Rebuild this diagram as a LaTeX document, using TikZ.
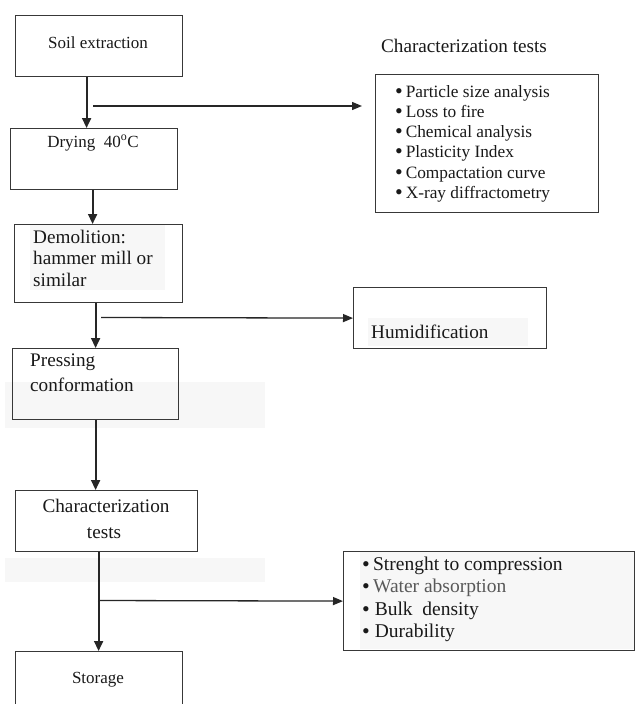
\documentclass[tikz,border=0pt]{standalone}
\usepackage{fontspec}
\setmainfont{Liberation Serif}
\usetikzlibrary{arrows.meta}
\newcommand{\bigbul}{\smash{\raisebox{-1pt}{\fontsize{22}{20}\selectfont\textbullet}}}
\begin{document}
\begin{tikzpicture}[x=1pt,y=-1pt,
  box/.style={draw=black!78, line width=1.2pt, anchor=north west, inner sep=0pt},
  lbl/.style={font=\fontsize{17}{20}\selectfont, text=black!90, inner sep=0pt},
  lmid/.style={font=\fontsize{19.2}{22}\selectfont, text=black!90, inner sep=0pt},
  llist/.style={font=\fontsize{17.3}{20}\selectfont, text=black!90, inner sep=0pt, anchor=base west},
  lbig/.style={font=\fontsize{19.5}{22}\selectfont, text=black!90, inner sep=0pt, anchor=base west},
  arr/.style={line width=1.8pt, draw=black!85, -{Triangle[length=10pt,width=9pt]}},
  brarr/.style={line width=1.3pt, draw=black!85, -{Triangle[length=10pt,width=8pt]}},
  haze/.style={fill=black!3, draw=none}]
\useasboundingbox (0,0) rectangle (635,704);
\fill[white] (0,0) rectangle (635,704);
% faint background patches
\fill[haze] (5,382) rectangle (265,428);
\fill[haze] (5,558) rectangle (265,582);
\fill[haze] (30,225) rectangle (165,290);
\fill[haze] (368,318) rectangle (528,346);
\fill[haze] (360,552) rectangle (634,649);
% boxes
\node[box, minimum width=167pt, minimum height=61pt] (soil) at (15,15) {};
\node[box, minimum width=167pt, minimum height=61pt] (dry) at (10,128) {};
\node[box, minimum width=168pt, minimum height=78pt] (demo) at (14,224) {};
\node[box, minimum width=193pt, minimum height=61pt] (humid) at (353,287) {};
\node[box, minimum width=166pt, minimum height=71pt] (press) at (12,348) {};
\node[box, minimum width=182pt, minimum height=61pt] (char) at (15,490) {};
\node[box, minimum width=167pt, minimum height=60pt] (store) at (15,651) {};
\node[box, minimum width=223pt, minimum height=138pt] (tests) at (375,74) {};
\node[box, minimum width=291pt, minimum height=99pt] (props) at (343,551) {};
% texts
\node[lbl] (tsoil) at (98,43) {Soil extraction};
\node[lbl] (tdry) at (93,143) {Drying\ \ 40\textsuperscript{o}C};
\node[lmid, anchor=west] (td1) at (33,237) {Demolition:};
\node[lmid, anchor=west] (td2) at (33,258) {hammer mill or};
\node[lmid, anchor=west] (td3) at (33,280) {similar};
\node[lmid, anchor=west] (tp1) at (30,362) {Pressing};
\node[lmid, anchor=west] (tp2) at (30,385) {conformation};
\node[lmid, anchor=west] (thum) at (371,332) {Humidification};
\node[lmid] (tc1) at (106,506) {Characterization};
\node[lmid] (tc2) at (104,533) {tests};
\node[lbl] (tst) at (98,680) {Storage};
\node[lmid] (ttitle) at (464,46) {Characterization tests};
\foreach \t [count=\i] in {Particle size analysis,Loss to fire,Chemical analysis,Plasticity Index,Compactation curve,X-ray diffractometry}
  \node[llist] (ct\i) at (395,77+20.2*\i) {\bigbul\,\t};
\node[lbig] (pr1) at (362,570) {\bigbul\,Strenght to compression};
\node[lbig, text=black!65] (pr2) at (362,592) {\textcolor{black!90}{\bigbul}\,Water absorption};
\node[lbig] (pr3) at (362,615) {\bigbul\ Bulk\ \ density};
\node[lbig] (pr4) at (362,637) {\bigbul\ Durability};
% branch points
\coordinate (b1s) at (93,106);
\coordinate (b1e) at (362,106);
\coordinate (b2s) at (101,317.5);
\coordinate (b3s) at (98,600.5);
% connectors
\draw[arr] ([xshift=-12.5pt]soil.south) -- ([xshift=-7.5pt]dry.north);
\draw[arr] ([xshift=-1.5pt]dry.south) -- ([xshift=-6pt]demo.north);
\draw[arr] ([xshift=-3pt]demo.south) -- (press.north);
\draw[arr] (press.south) -- ([xshift=-11pt]char.north);
\draw[arr] ([xshift=-8pt]char.south) -- ([xshift=-0.5pt]store.north);
\draw[brarr] (b1s) -- (b1e);
\draw[brarr] (b2s) -- (humid.west);
\draw[brarr] (b3s) -- (props.west);
\end{tikzpicture}
\end{document}
